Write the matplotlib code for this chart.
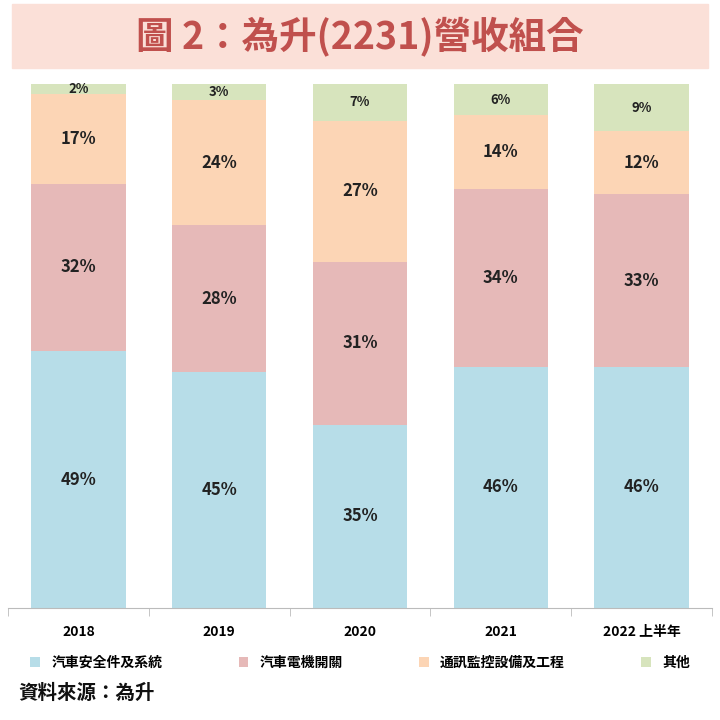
import matplotlib.pyplot as plt
from matplotlib.patches import Rectangle

plt.rcParams["font.family"] = ["Noto Sans CJK TC", "Noto Sans CJK JP", "Noto Sans CJK SC",
                               "Noto Sans CJK KR", "DejaVu Sans"]

years = ["2018", "2019", "2020", "2021", "2022 上半年"]
series_names = ["汽車安全件及系統", "汽車電機開關", "通訊監控設備及工程", "其他"]
auto_safety = [49, 45, 35, 46, 46]
motor_switch = [32, 28, 31, 34, 33]
telecom = [17, 24, 27, 14, 12]
other = [2, 3, 7, 6, 9]
colors = ["#B7DDE8", "#E6B9B8", "#FCD5B5", "#D7E4BD"]

fig = plt.figure(figsize=(7.2, 7.2), dpi=100)
fig.patches.append(Rectangle((12 / 720, 1 - 68 / 720), 696 / 720, 64 / 720,
                             transform=fig.transFigure, color="#FBE0D8", zorder=0))
fig.text(0.5, 1 - 36 / 720, "圖 2：為升(2231)營收組合", ha="center", va="center",
         fontsize=27, fontweight="bold", color="#C0504D")

ax = fig.add_axes([8 / 720, 1 - 608 / 720, 704 / 720, 524 / 720])
x = range(len(years))
bottom = [0] * len(years)
for vals, name, c in zip([auto_safety, motor_switch, telecom, other], series_names, colors):
    ax.bar(x, vals, width=0.67, bottom=bottom, color=c, label=name)
    for i, v in enumerate(vals):
        ax.text(i, bottom[i] + v / 2, f"{v}%", ha="center", va="center",
                fontsize=12 if v >= 10 else 9.5, fontweight="bold", color="#222222")
    bottom = [b + v for b, v in zip(bottom, vals)]

ax.set_xlim(-0.5, len(years) - 0.5)
ax.set_ylim(0, 100)
ax.set_yticks([])
ax.set_xticks(list(x))
ax.set_xticklabels(years, fontsize=10, fontweight="bold")
ax.set_xticks([i + 0.5 for i in range(-1, len(years))], minor=True)
ax.tick_params(axis="x", which="major", length=0, pad=12)
ax.tick_params(axis="x", which="minor", length=6, color="#BBBBBB")
for s in ["top", "left", "right"]:
    ax.spines[s].set_visible(False)
ax.spines["bottom"].set_color("#BBBBBB")

fig.legend(loc="center", bbox_to_anchor=(0.5, 1 - 663 / 720), ncol=4, frameon=False,
           handlelength=0.7, handleheight=0.7, columnspacing=5.5,
           prop={"weight": "bold", "size": 10})
fig.text(18 / 720, 1 - 693 / 720, "資料來源：為升", fontsize=14, fontweight="bold",
         va="center", color="#111111")

fig.savefig("out.png", dpi=100)
